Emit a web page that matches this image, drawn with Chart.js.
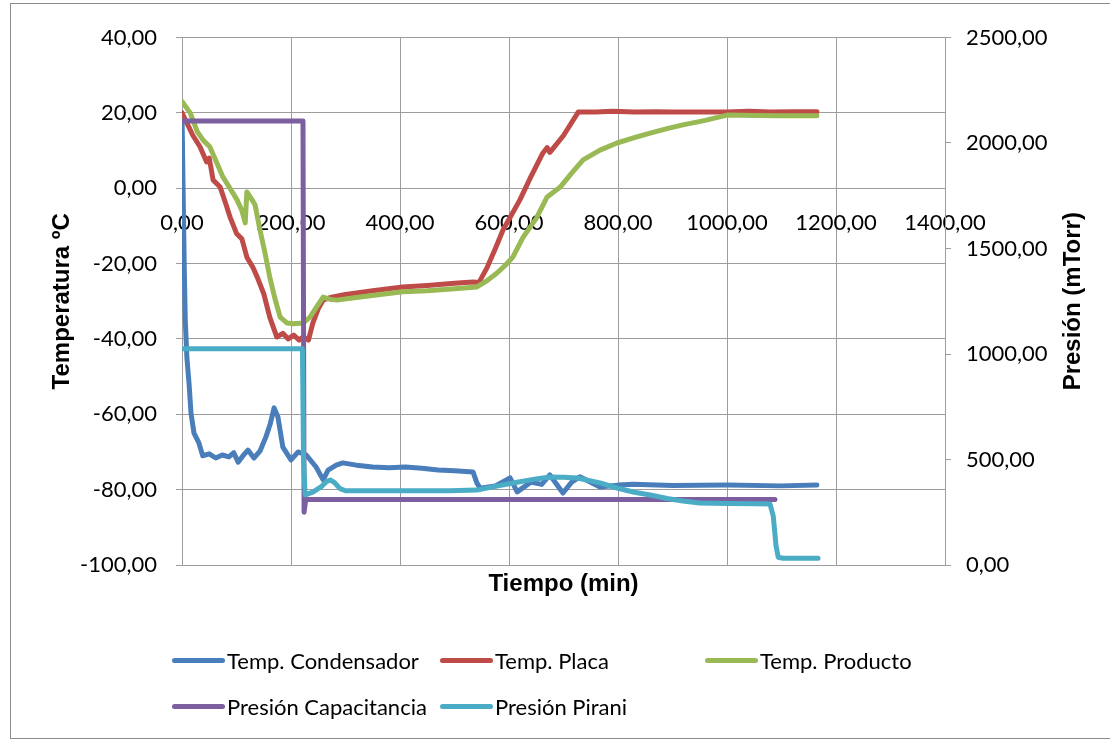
<!DOCTYPE html>
<html>
<head>
<meta charset="utf-8">
<script src="https://cdn.jsdelivr.net/npm/chart.js@4/dist/chart.umd.min.js"></script>
<style>
  body { margin: 0; background: #fff; }
  #wrap { position: relative; width: 1110px; height: 744px; overflow: hidden; }
  #frame { position: absolute; left: 10px; top: 3px; width: 1110px; height: 736px; border: 1px solid #8c8c8c; box-sizing: border-box; }
  #chart { position: absolute; left: 0; top: 0; }
  .leg { position: absolute; display: flex; align-items: center; font-family: Lato, sans-serif; font-size: 22px; color: #000; white-space: nowrap; }
  .leg span.line { display: inline-block; width: 53px; height: 5px; border-radius: 3px; margin-right: 2px; }
</style>
</head>
<body>
<div id="wrap">
  <div id="frame"></div>
  <canvas id="chart" width="1110" height="744"></canvas>
  <div id="legend"></div>
</div>
<script>
// tiempo (min) y valores
const condX = [0, 2, 4, 6, 9, 13, 16.5, 22, 31, 38, 50, 62, 74, 86, 95, 103, 112, 121, 132, 143, 154, 162, 169, 176, 185, 200, 213, 228, 246, 259, 268, 283, 295, 320, 350, 380, 410, 440, 470, 500, 534, 541, 547, 575, 602, 615, 640, 660, 675, 699, 715, 730, 767, 800, 828, 900, 1000, 1100, 1165];
const condY = [20, 0, -20, -35, -45, -52, -59.7, -65, -67.6, -71, -70.5, -71.6, -70.8, -71.3, -70.2, -72.7, -71, -69.5, -71.6, -69.8, -66, -62.5, -58.3, -60.7, -68.7, -72.1, -70, -70.8, -74, -77.4, -74.8, -73.5, -72.9, -73.5, -74, -74.2, -74, -74.3, -74.8, -75, -75.3, -78.2, -79.6, -79, -76.9, -80.6, -78, -78.6, -76.1, -80.9, -78, -76.6, -79.3, -78.8, -78.6, -78.9, -78.8, -79, -78.8];

const placaX = [0, 10, 20, 33, 45, 50, 57, 70, 80, 88, 100, 110, 119, 130, 138, 150, 161, 174, 185, 195, 205, 215, 222, 232, 240, 250, 259, 272, 300, 350, 405, 450, 500, 534, 545, 560, 575, 589, 605, 620, 640, 662, 670, 675, 700, 727, 760, 790, 830, 870, 900, 950, 1000, 1040, 1080, 1120, 1165];
const placaY = [20, 17, 14, 11, 7, 8, 2.2, 0.3, -4, -7.6, -12, -13.5, -18.3, -21, -23.6, -28, -34.2, -39.5, -38.5, -40, -39, -40.3, -39.5, -40.3, -35.8, -32, -29.7, -29, -28.2, -27.2, -26.2, -25.8, -25.2, -24.9, -25, -21, -16, -11.1, -7, -3.1, 3, 9.3, 10.8, 9.5, 14, 20.2, 20.2, 20.4, 20.2, 20.3, 20.2, 20.2, 20.2, 20.4, 20.2, 20.3, 20.3];

const prodX = [0, 15, 28, 39, 51, 63, 75, 88, 101, 110, 116, 119, 126, 134, 143, 152, 161, 170, 180, 193, 205, 222, 235, 247, 259, 272, 284, 320, 360, 405, 450, 500, 541, 560, 578, 593, 607, 626, 650, 670, 694, 715, 736, 767, 798, 830, 859, 890, 919, 960, 1000, 1050, 1100, 1165];
const prodY = [23, 20, 15, 12.7, 11, 7, 3, 0, -3.1, -6, -9.2, -1, -2.5, -4.4, -11, -17, -23.6, -29, -34.2, -35.8, -36, -35.8, -34.2, -31.5, -28.9, -29.5, -29.7, -29, -28.3, -27.5, -27.2, -26.7, -26.2, -24.5, -22.5, -20.5, -18.3, -13, -8, -2.3, 0.3, 4, 7.5, 10.1, 12, 13.4, 14.6, 15.8, 16.8, 18, 19.4, 19.3, 19.2, 19.2];

const capX = [0, 222, 224, 227, 1088];
const capY = [2104, 2104, 250, 310, 310];

const piraniX = [0, 221, 223, 226, 240, 255, 265, 272, 280, 290, 300, 320, 400, 492, 541, 580, 615, 650, 675, 700, 725, 767, 798, 830, 859, 890, 919, 950, 1000, 1050, 1079, 1085, 1090, 1094, 1103, 1167];
const piraniY = [1025, 1025, 500, 332, 345, 370, 395, 403, 390, 362, 352, 352, 352, 352, 355, 375, 392, 408, 417, 416, 412, 389, 365, 345, 332, 315, 303, 294, 292, 290, 289, 230, 90, 37, 32, 32];

const etiquetas = ["Temp. Condensador", "Temp. Placa", "Temp. Producto", "Presión Capacitancia", "Presión Pirani"];
const colores = ["#4a7ebb", "#be4b48", "#98b954", "#7d5fa0", "#4bacc6"];

const puntos = (xs, ys) => xs.map((x, i) => ({ x, y: ys[i] }));
const fmt = v => v.toFixed(2).replace(".", ",");
const gris = "#9d9d9d";
const tickFont = { family: "Lato", size: 22 };
const titleFont = { family: "Liberation Sans", size: 24, weight: "bold" };

const serie = (i, data, eje, orden) => ({
    label: etiquetas[i],
    data,
    yAxisID: eje,
    borderColor: colores[i],
    backgroundColor: colores[i],
    borderWidth: 5,
    borderJoinStyle: "round",
    borderCapStyle: "round",
    pointRadius: 0,
    tension: 0,
    order: orden
});

// titulo del eje derecho leido de abajo hacia arriba, como en Excel
const tituloDerecho = {
    id: "tituloDerecho",
    afterDraw(chart) {
        const { ctx, chartArea } = chart;
        ctx.save();
        ctx.translate(1073, (chartArea.top + chartArea.bottom) / 2);
        ctx.rotate(-Math.PI / 2);
        ctx.font = "bold 24px 'Liberation Sans'";
        ctx.fillStyle = "#000";
        ctx.textAlign = "center";
        ctx.textBaseline = "middle";
        ctx.fillText("Presión (mTorr)", 0, 0);
        ctx.restore();
    }
};

const chart = new Chart(document.getElementById("chart"), {
    type: "line",
    data: {
        datasets: [
            serie(0, puntos(condX, condY), "y", 5),
            serie(1, puntos(placaX, placaY), "y", 4),
            serie(2, puntos(prodX, prodY), "y", 3),
            serie(3, puntos(capX, capY), "y1", 2),
            serie(4, puntos(piraniX, piraniY), "y1", 1)
        ]
    },
    options: {
        responsive: false,
        animation: false,
        layout: { padding: { top: 37.5, left: 0, right: 0, bottom: 134 } },
        plugins: { legend: { display: false }, tooltip: { enabled: false } },
        scales: {
            x: {
                type: "linear",
                position: { y: 0 },
                min: 0, max: 1400,
                ticks: { stepSize: 200, callback: fmt, font: tickFont, color: "#000", padding: 21, maxRotation: 0 },
                grid: { color: gris, drawTicks: false },
                border: { color: gris }
            },
            x2: {
                type: "linear",
                position: "bottom",
                min: 0, max: 1400,
                ticks: { display: false },
                grid: { display: false },
                border: { display: false },
                title: { display: true, text: "Tiempo (min)", font: titleFont, color: "#000", padding: { top: 0, bottom: 11.6 } },
                afterFit: s => { s.height = 45; }
            },
            y: {
                position: "left",
                min: -100, max: 40,
                ticks: { stepSize: 20, callback: fmt, font: tickFont, color: "#000", padding: 19 },
                grid: { color: gris, tickLength: 6 },
                border: { color: gris },
                title: { display: true, text: "Temperatura ºC", font: titleFont, color: "#000", padding: { top: 47.6, bottom: 0 } },
                afterFit: s => { s.width = 182; }
            },
            y1: {
                position: "right",
                min: 0, max: 2500,
                ticks: { stepSize: 500, callback: fmt, font: tickFont, color: "#000", padding: 15 },
                grid: { drawOnChartArea: false, color: gris, tickLength: 6 },
                border: { color: gris },
                afterFit: s => { s.width = 165; }
            }
        }
    },
    plugins: [tituloDerecho]
});

// leyenda en dos filas, columnas fijas como en Excel
const legendPos = [[172, 660], [440, 660], [705, 660], [172, 706], [440, 706]];
const legend = document.getElementById("legend");
chart.data.datasets.forEach((ds, i) => {
    const item = document.createElement("div");
    item.className = "leg";
    item.style.left = legendPos[i][0] + "px";
    item.style.top = (legendPos[i][1] - 14) + "px";
    item.style.height = "28px";
    item.innerHTML = `<span class="line" style="background:${ds.borderColor}"></span>${ds.label}`;
    legend.appendChild(item);
});
</script>
</body>
</html>
